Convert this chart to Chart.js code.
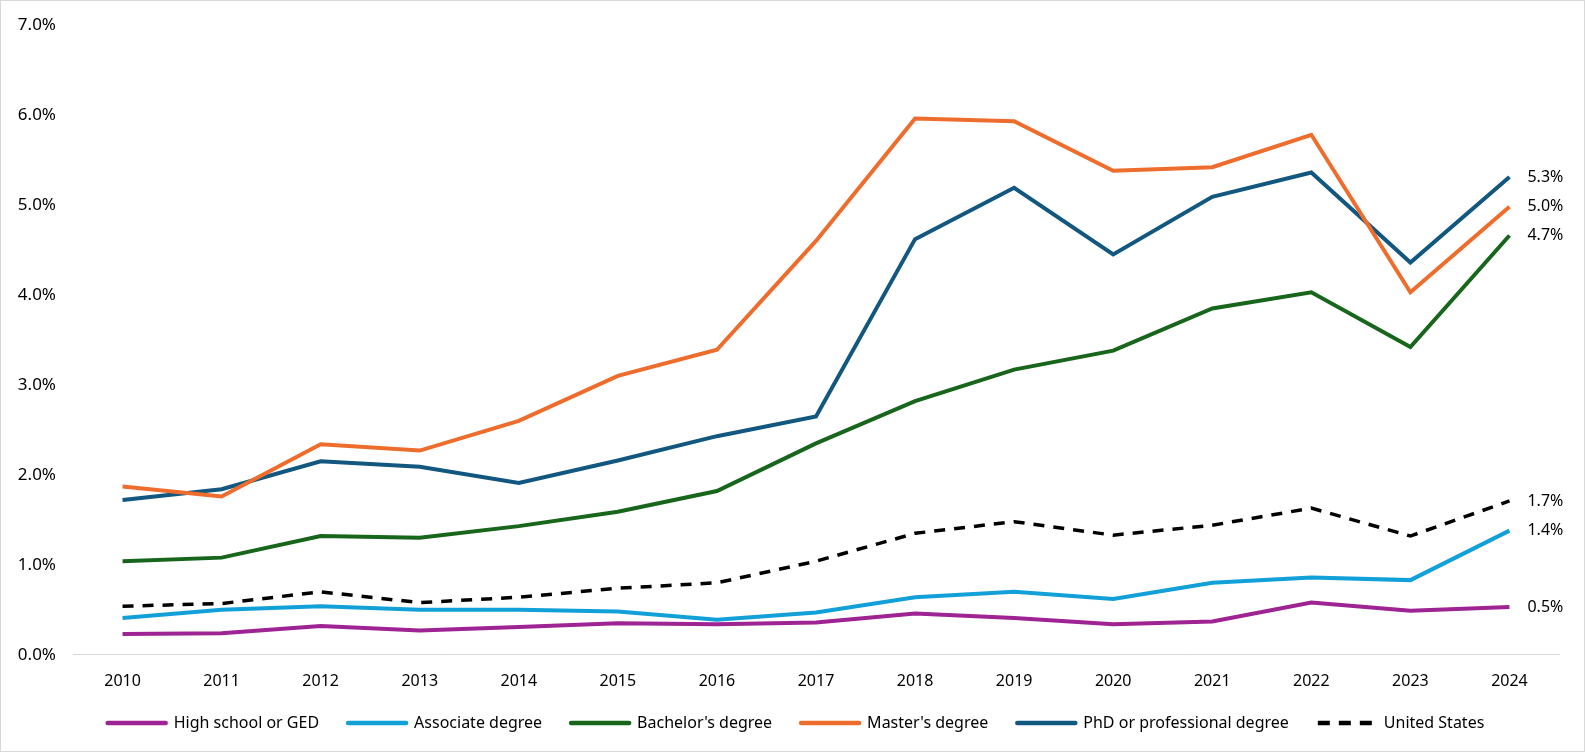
<!DOCTYPE html>
<html>
<head>
<meta charset="utf-8">
<script src="https://cdn.jsdelivr.net/npm/chart.js@4.4.1/dist/chart.umd.min.js"></script>
<style>
  html, body { margin: 0; padding: 0; background: #fff; }
  #wrap { position: relative; width: 1583px; height: 750px; border: 1px solid #d9d9d9; }
</style>
</head>
<body>
<div id="wrap"><canvas id="chart"></canvas></div>
<script>
const years = ['2010', '2011', '2012', '2013', '2014', '2015', '2016', '2017',
  '2018', '2019', '2020', '2021', '2022', '2023', '2024'];

const highSchool = [0.23, 0.24, 0.32, 0.27, 0.31, 0.35, 0.34, 0.36, 0.46, 0.41, 0.34, 0.37, 0.58, 0.49, 0.53];
const associate  = [0.41, 0.50, 0.54, 0.50, 0.50, 0.48, 0.39, 0.47, 0.64, 0.70, 0.62, 0.80, 0.86, 0.83, 1.38];
const bachelor   = [1.04, 1.08, 1.32, 1.30, 1.43, 1.59, 1.82, 2.35, 2.82, 3.17, 3.38, 3.85, 4.03, 3.42, 4.66];
const master     = [1.87, 1.76, 2.34, 2.27, 2.60, 3.10, 3.39, 4.60, 5.96, 5.93, 5.38, 5.42, 5.78, 4.03, 4.98];
const phd        = [1.72, 1.84, 2.15, 2.09, 1.91, 2.16, 2.43, 2.65, 4.62, 5.19, 4.45, 5.09, 5.36, 4.36, 5.31];
const unitedStates = [0.54, 0.57, 0.70, 0.58, 0.64, 0.74, 0.80, 1.04, 1.35, 1.48, 1.33, 1.44, 1.63, 1.32, 1.71];

const yTicks = [0, 1, 2, 3, 4, 5, 6, 7];

const FONT = '"Noto Sans", "Liberation Sans", Arial, sans-serif';

function line(label, data, color, extra) {
  return Object.assign({
    label, data,
    borderColor: color,
    backgroundColor: color,
    borderWidth: 4,
    pointRadius: 0,
    tension: 0,
    fill: false
  }, extra || {});
}

// writes the last value next to the end of each line
const endLabels = {
  id: 'endLabels',
  afterDatasetsDraw(chart) {
    const ctx = chart.ctx;
    ctx.save();
    ctx.font = '16px ' + FONT;
    ctx.fillStyle = '#000';
    ctx.textAlign = 'left';
    ctx.textBaseline = 'middle';
    chart.data.datasets.forEach((ds, i) => {
      const meta = chart.getDatasetMeta(i);
      const pt = meta.data[meta.data.length - 1];
      const v = ds.data[ds.data.length - 1];
      ctx.fillText(v.toFixed(1) + '%', pt.x + 18, pt.y);
    });
    ctx.restore();
  }
};

// nudges the legend a little to the right, like the original
const legendShift = {
  id: 'legendShift',
  afterLayout(chart) {
    if (chart.legend) {
      chart.legend.left += 16;
      chart.legend.right += 16;
    }
  }
};

new Chart(document.getElementById('chart'), {
  type: 'line',
  data: {
    labels: years,
    datasets: [
      line('High school or GED', highSchool, '#9e2393'),
      line('Associate degree', associate, '#12a0d8'),
      line("Bachelor's degree", bachelor, '#17661c'),
      line("Master's degree", master, '#ee6d2d'),
      line('PhD or professional degree', phd, '#11577f'),
      line('United States', unitedStates, '#000000', { borderWidth: 3.5, borderDash: [11, 9] })
    ]
  },
  options: {
    responsive: true,
    maintainAspectRatio: false,
    animation: false,
    layout: { padding: { top: 24, right: 25, left: 0, bottom: 10 } },
    plugins: {
      tooltip: { enabled: false },
      legend: {
        position: 'bottom',
        labels: {
          usePointStyle: true,
          pointStyle: 'line',
          pointStyleWidth: 58,
          boxHeight: 16,
          padding: 29,
          color: '#000',
          font: { family: FONT, size: 16 },
          generateLabels(chart) {
            const items = Chart.defaults.plugins.legend.labels.generateLabels(chart);
            return items.map(it => {
              const ds = chart.data.datasets[it.datasetIndex];
              it.lineWidth = 4.5;
              it.strokeStyle = ds.borderColor;
              it.lineDash = ds.borderDash ? [12, 9] : [];
              it.lineCap = ds.borderDash ? 'butt' : 'round';
              return it;
            });
          }
        }
      }
    },
    scales: {
      x: {
        offset: true,
        afterFit(axis) { axis.height -= 14; },
        grid: { display: false },
        border: { display: true, color: '#d9d9d9', width: 1 },
        ticks: { color: '#000', padding: 9, font: { family: FONT, size: 16 } }
      },
      y: {
        min: 0,
        max: 7,
        afterBuildTicks(axis) { axis.ticks = yTicks.map(v => ({ value: v })); },
        afterFit(axis) { axis.width = 72; },
        grid: { display: false },
        border: { display: false },
        ticks: {
          color: '#000',
          padding: 9,
          font: { family: FONT, size: 17 },
          callback: v => v.toFixed(1) + '%'
        }
      }
    }
  },
  plugins: [endLabels, legendShift]
});
</script>
</body>
</html>
